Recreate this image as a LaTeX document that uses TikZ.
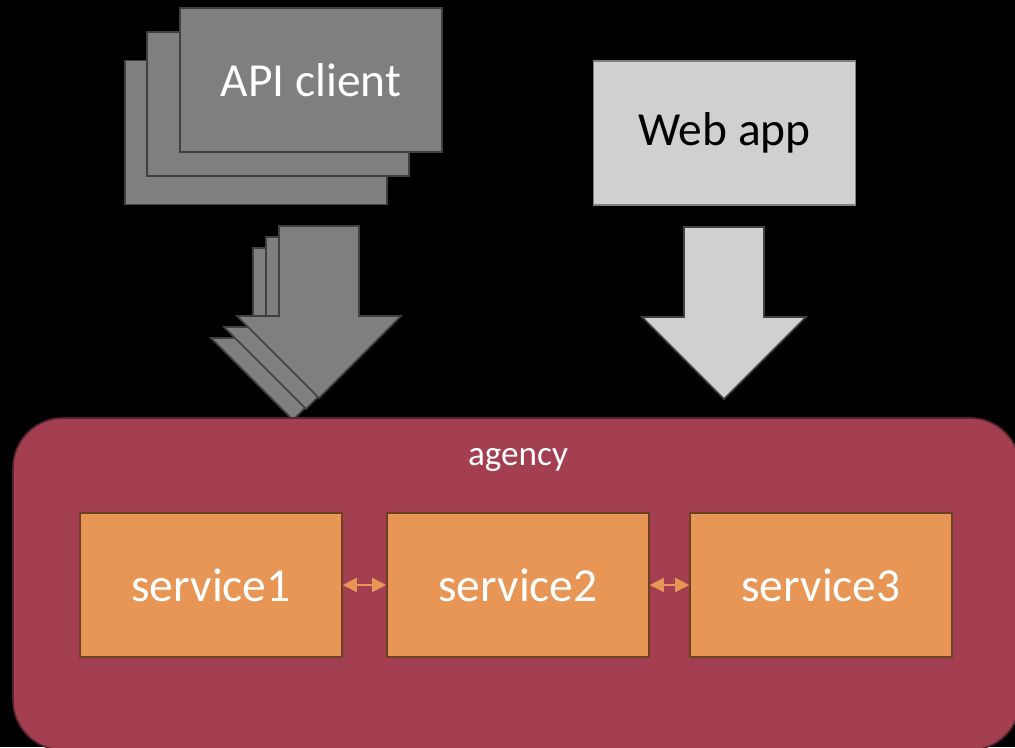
\documentclass[tikz,border=0pt]{standalone}
\usepackage{fontspec}
\setmainfont{Carlito}
\usepackage{tikz}
\usetikzlibrary{arrows.meta}

\definecolor{clientgray}{HTML}{7F7F7F}
\definecolor{darkedge}{HTML}{404040}
\definecolor{webgray}{HTML}{D0D0D0}
\definecolor{agencyred}{HTML}{A43F52}
\definecolor{agencyedge}{HTML}{5C2430}
\definecolor{svcorange}{HTML}{E89656}
\definecolor{svcedge}{HTML}{6B4122}

\begin{document}
\begin{tikzpicture}[
          client/.style={draw=darkedge, fill=clientgray, line width=0.9pt, minimum width=5.24cm, minimum height=2.88cm, text=white, font=\fontsize{27}{32}\selectfont},
          webbox/.style={draw=gray, fill=webgray, line width=0.9pt, minimum width=5.24cm, minimum height=2.88cm, text=black, font=\fontsize{27}{32}\selectfont},
          service/.style={draw=svcedge, fill=svcorange, line width=0.9pt, minimum width=5.24cm, minimum height=2.88cm, text=white, font=\fontsize{27}{32}\selectfont},
          link/.style={{Triangle[length=0.28cm,width=0.28cm]}-{Triangle[length=0.28cm,width=0.28cm]}, draw=svcorange, line width=1pt},
          pics/bigarrow/.style={code={
            \draw[pic actions] (-0.8,0) -- (0.8,0) -- (0.8,-1.8) -- (1.64,-1.8) -- (0,-3.44)
              -- (-1.64,-1.8) -- (-0.8,-1.8) -- cycle;
          }}
        ]
          \fill[black] (0,0) rectangle (20.3,-14.94);
          \clip (0,0) rectangle (20.3,-14.94);

          % clients, stacked
          \node[client] (client3) at (5.12,-2.65) {};
          \node[client] (client2) at (5.56,-2.08) {};
          \node[client] (client1) at (6.22,-1.60) {API client};

          \node[webbox] (webapp) at (14.49,-2.66) {Web app};

          % request arrows
          \foreach \ax/\ay in {5.86/-4.96, 6.12/-4.74, 6.38/-4.52}
            \pic[draw=darkedge, fill=clientgray, line width=0.9pt] at (\ax,\ay) {bigarrow};
          \pic[draw=darkedge, fill=webgray, line width=0.9pt] at (14.48,-4.54) {bigarrow};

          % agency
          \draw[agencyedge, fill=agencyred, line width=0.9pt, rounded corners=1cm]
            (0.26,-8.36) rectangle (20.4,-15.0);
          \node[text=white, font=\fontsize{20}{24}\selectfont] (agency) at (10.36,-9.2) {agency};

          \node[service] (svc1) at (4.22,-11.70) {service1};
          \node[service] (svc2) at (10.36,-11.70) {service2};
          \node[service] (svc3) at (16.42,-11.70) {service3};

          \draw[link] (svc1) -- (svc2);
          \draw[link] (svc2) -- (svc3);
        \end{tikzpicture}
\end{document}
